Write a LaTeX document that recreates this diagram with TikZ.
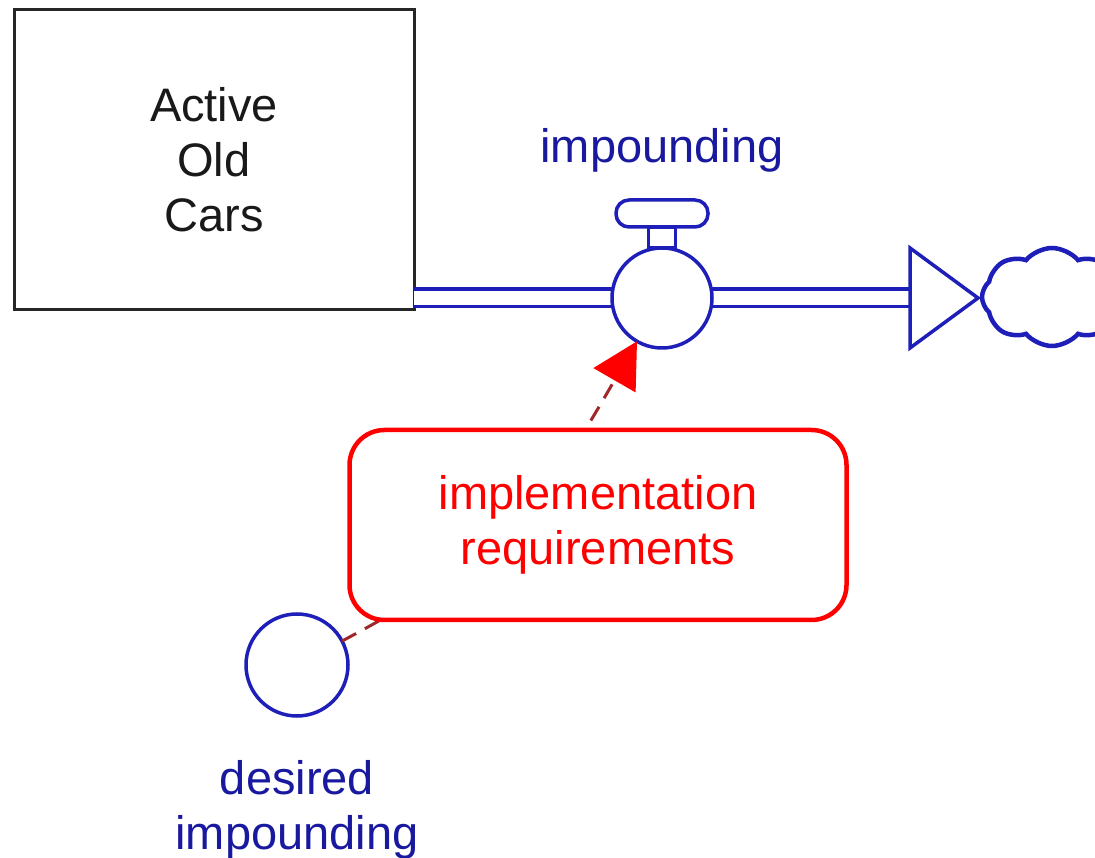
\documentclass[tikz,border=0pt]{standalone}
\usepackage{fontspec}
\setmainfont{Liberation Sans}
\usetikzlibrary{positioning,arrows.meta,shapes.symbols}
\definecolor{flowblue}{RGB}{30,30,185}
\definecolor{txtblue}{RGB}{25,25,160}
\definecolor{linkred}{RGB}{160,40,40}

\begin{document}
\begin{tikzpicture}[x=1pt,y=1pt,
  every node/.style={font=\fontsize{47}{55}\selectfont, inner sep=0pt, outer sep=0pt},
  flowpart/.style={draw=flowblue, line width=3.5pt, fill=white},
  lbl/.style={text=txtblue, align=center}]
  \useasboundingbox (0,0) rectangle (1095,857);

  \node[draw=black!85, line width=3pt, fill=white, minimum width=400pt, minimum height=300pt, align=center, text=black!90](stock) at (214,697){Active\\Old\\Cars};
  \coordinate (head) at (910,559);

  % pipe, then the valve over it
  \draw[draw=flowblue, line width=3.5pt, double=white, double distance=14pt] (stock.east |- head) -- (head);
  \node[flowpart, circle, minimum size=100pt](valve) at (662,559){};
  \node[flowpart, minimum width=27pt, minimum height=21pt, above=0pt of valve](stem){};
  \node[flowpart, rounded corners=13pt, minimum width=92pt, minimum height=27pt, above=0pt of stem](handle){};
  \node[lbl, above=28pt of handle](flowlbl){impounding};
  \draw[flowpart] (head) -- ++(0,50) -- ++(68,-50) -- ++(-68,-50) -- cycle;
  \node[cloud, cloud puffs=8, cloud puff arc=100, flowpart, line width=4.5pt, minimum width=140pt, minimum height=98pt](sink) at (1052,560){};

  \node[flowpart, circle, minimum size=102pt](desired) at (297,192){};
  \node[lbl, below=44pt of desired](desiredlbl){desired\\impounding};

  % link runs behind the red box
  \draw[linkred, line width=3pt, dash pattern=on 16pt off 10pt, -{Triangle[length=45pt,width=48pt,color=red]}]
  (desired) to[out=28, in=240, looseness=1.15] (valve);
  \node[draw=red, line width=4.5pt, fill=white, rounded corners=35pt, minimum width=497pt, minimum height=190pt, text=red, align=center](impl) at (598,332){implementation\\requirements};
\end{tikzpicture}
\end{document}
